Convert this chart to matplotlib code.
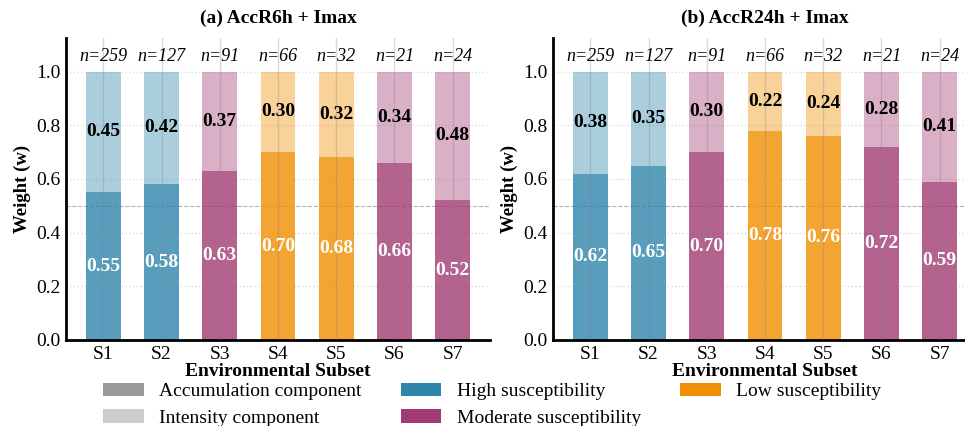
import matplotlib
matplotlib.use("Agg")
import matplotlib.pyplot as plt
from matplotlib.patches import Patch
import numpy as np

plt.rcParams['font.family'] = ['Liberation Serif', 'DejaVu Serif']

subsets = ["S1", "S2", "S3", "S4", "S5", "S6", "S7"]
n_samples = [259, 127, 91, 66, 32, 21, 24]
susceptibility = ["High", "High", "Moderate", "Low", "Low", "Moderate", "Moderate"]

acc_6h = [0.55, 0.58, 0.63, 0.70, 0.68, 0.66, 0.52]
int_6h = [0.45, 0.42, 0.37, 0.30, 0.32, 0.34, 0.48]
acc_24h = [0.62, 0.65, 0.70, 0.78, 0.76, 0.72, 0.59]
int_24h = [0.38, 0.35, 0.30, 0.22, 0.24, 0.28, 0.41]

titles = ["(a) AccR6h + Imax", "(b) AccR24h + Imax"]

colors = {"High": "#2E86AB", "Moderate": "#A23B72", "Low": "#F18F01"}

fig = plt.figure(figsize=(9.65, 4.26), dpi=100)
W, H = 965, 426
ax_a = fig.add_axes([66 / W, 1 - 340 / H, 424 / W, (340 - 38) / H])
ax_b = fig.add_axes([553 / W, 1 - 340 / H, 424 / W, (340 - 38) / H])

x = np.arange(len(subsets))
for ax, acc, inten, title in [(ax_a, acc_6h, int_6h, titles[0]), (ax_b, acc_24h, int_24h, titles[1])]:
    cols = [colors[s] for s in susceptibility]
    ax.bar(x, acc, width=0.6, color=cols, alpha=0.8, zorder=2)
    ax.bar(x, inten, bottom=acc, width=0.6, color=cols, alpha=0.4, zorder=2)
    for xi in x:
        ax.axvline(xi, color="gray", alpha=0.3, lw=1.0, zorder=3)
    ax.axhline(0.5, color="gray", ls="--", lw=0.8, alpha=0.6, zorder=1)
    ax.set_yticks([0.0, 0.2, 0.4, 0.6, 0.8, 1.0])
    ax.grid(axis="y", ls=":", color="#dddddd", lw=1.0, zorder=0)
    ax.set_axisbelow(True)
    for xi, a, b, n in zip(x, acc, inten, n_samples):
        ax.text(xi, a / 2, f"{a:.2f}", ha="center", va="center", color="white",
                fontsize=14, fontweight="bold", zorder=4)
        ax.text(xi, a + b / 2, f"{b:.2f}", ha="center", va="center", color="black",
                fontsize=14, fontweight="bold", zorder=4)
        ax.text(xi, 1.055, f"n={n}", ha="center", va="center", fontsize=13,
                style="italic", zorder=4)
    ax.set_xlim(-0.64, 6.64)
    ax.set_ylim(0, 1.125)
    ax.set_xticks(x)
    ax.set_xticklabels(subsets)
    ax.tick_params(labelsize=14, length=0, pad=4)
    ax.set_xlabel("Environmental Subset", fontsize=14, fontweight="bold", labelpad=0)
    ax.set_ylabel("Weight (w)", fontsize=13.5, fontweight="bold")
    ax.set_title(title, fontsize=14, fontweight="bold", pad=11)
    for s in ["top", "right"]:
        ax.spines[s].set_visible(False)
    for s in ["left", "bottom"]:
        ax.spines[s].set_linewidth(2.0)
        ax.spines[s].set_color("black")

handles = [
    Patch(facecolor="gray", alpha=0.8, label="Accumulation component"),
    Patch(facecolor="gray", alpha=0.4, label="Intensity component"),
    Patch(facecolor=colors["High"], label="High susceptibility"),
    Patch(facecolor=colors["Moderate"], label="Moderate susceptibility"),
    Patch(facecolor=colors["Low"], label="Low susceptibility"),
]
fig.legend(handles=handles, ncol=3, loc="upper center", bbox_to_anchor=(0.51, 0.143),
           frameon=False, fontsize=14, handlelength=2.1, handleheight=0.7,
           columnspacing=2.0, labelspacing=0.45, handletextpad=0.8)

fig.savefig("out.png", dpi=100)
